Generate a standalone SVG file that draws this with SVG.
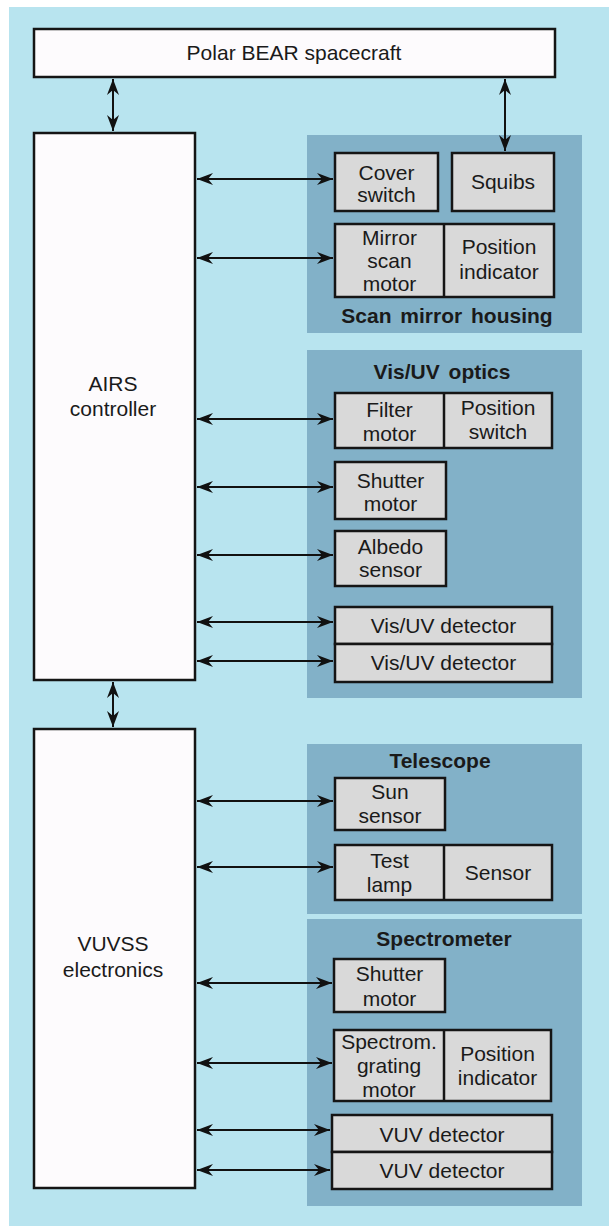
<svg xmlns="http://www.w3.org/2000/svg" width="609" height="1226" viewBox="0 0 609 1226">
<defs>
<marker id="ah" markerUnits="userSpaceOnUse" markerWidth="16" markerHeight="12" refX="16" refY="6" orient="auto-start-reverse" viewBox="0 0 16 12">
<path d="M0,0 L16,6 L0,12 L5,6 Z" fill="#111"/>
</marker>
<style>
.bg{fill:#b8e4ef}
.panel{fill:#82b1c8}
.main{fill:#fdfbfd;stroke:#151515;stroke-width:2.5}
.box{fill:#d9d9d9;stroke:#151515;stroke-width:2.5}
.div{stroke:#151515;stroke-width:2.5}
text{font-family:"Liberation Sans",Arial,sans-serif;font-size:21px;fill:#1a1a1a;text-anchor:middle}
.t{font-weight:bold;word-spacing:3px}
.c line{stroke:#111;stroke-width:2;marker-start:url(#ah);marker-end:url(#ah)}
</style>
</defs>
<rect x="0" y="0" width="609" height="1226" fill="#ffffff"/>
<rect class="bg" x="9" y="7" width="600" height="1219"/>

<g id="panel-scan">
<rect class="panel" x="307" y="135" width="275" height="198"/>
<text class="t" x="447" y="323">Scan mirror housing</text>
</g>
<g id="panel-visuv">
<rect class="panel" x="307" y="350" width="275" height="348"/>
<text class="t" x="442" y="379">Vis/UV optics</text>
</g>
<g id="panel-telescope">
<rect class="panel" x="307" y="744" width="275" height="170"/>
<text class="t" x="440" y="768">Telescope</text>
</g>
<g id="panel-spectrometer">
<rect class="panel" x="307" y="919" width="275" height="287"/>
<text class="t" x="444" y="946">Spectrometer</text>
</g>

<g id="polar-bear">
<rect class="main" x="34" y="29" width="521" height="48"/>
<text x="294" y="60">Polar BEAR spacecraft</text>
</g>
<g id="airs">
<rect class="main" x="34" y="133" width="161" height="547"/>
<text x="113" y="391">AIRS</text>
<text x="113" y="416">controller</text>
</g>
<g id="vuvss">
<rect class="main" x="34" y="729" width="161" height="459"/>
<text x="113" y="951">VUVSS</text>
<text x="113" y="977">electronics</text>
</g>

<g id="cover-switch">
<rect class="box" x="335" y="153" width="103" height="58"/>
<text x="386.5" y="180">Cover</text>
<text x="386.5" y="202">switch</text>
</g>
<g id="squibs">
<rect class="box" x="452" y="153" width="102" height="58"/>
<text x="503" y="189">Squibs</text>
</g>
<g id="mirror-scan">
<rect class="box" x="335" y="224" width="219" height="73"/>
<line class="div" x1="444" y1="224" x2="444" y2="297"/>
<text x="389.5" y="245">Mirror</text>
<text x="389.5" y="268">scan</text>
<text x="389.5" y="291">motor</text>
<text x="499" y="254">Position</text>
<text x="499" y="279">indicator</text>
</g>

<g id="filter-motor">
<rect class="box" x="335" y="393" width="217" height="55"/>
<line class="div" x1="444" y1="393" x2="444" y2="448"/>
<text x="389.5" y="417">Filter</text>
<text x="389.5" y="441">motor</text>
<text x="498" y="415">Position</text>
<text x="498" y="439">switch</text>
</g>
<g id="shutter-motor-1">
<rect class="box" x="335" y="462" width="111" height="57"/>
<text x="390.5" y="488">Shutter</text>
<text x="390.5" y="511">motor</text>
</g>
<g id="albedo">
<rect class="box" x="335" y="531" width="111" height="55"/>
<text x="390.5" y="554">Albedo</text>
<text x="390.5" y="577">sensor</text>
</g>
<g id="visuv-det-1">
<rect class="box" x="335" y="607" width="217" height="37"/>
<text x="443.5" y="633">Vis/UV detector</text>
</g>
<g id="visuv-det-2">
<rect class="box" x="335" y="644" width="217" height="38"/>
<text x="443.5" y="670">Vis/UV detector</text>
</g>

<g id="sun-sensor">
<rect class="box" x="335" y="778" width="110" height="52"/>
<text x="390" y="799">Sun</text>
<text x="390" y="823">sensor</text>
</g>
<g id="test-lamp">
<rect class="box" x="335" y="845" width="217" height="55"/>
<line class="div" x1="444" y1="845" x2="444" y2="900"/>
<text x="389.5" y="868">Test</text>
<text x="389.5" y="892">lamp</text>
<text x="498" y="880">Sensor</text>
</g>

<g id="shutter-motor-2">
<rect class="box" x="334" y="959" width="111" height="53"/>
<text x="389.5" y="981">Shutter</text>
<text x="389.5" y="1006">motor</text>
</g>
<g id="grating-motor">
<rect class="box" x="334" y="1030" width="217" height="71"/>
<line class="div" x1="444" y1="1030" x2="444" y2="1101"/>
<text x="389" y="1049">Spectrom.</text>
<text x="389" y="1073">grating</text>
<text x="389" y="1097">motor</text>
<text x="497.5" y="1061">Position</text>
<text x="497.5" y="1085">indicator</text>
</g>
<g id="vuv-det-1">
<rect class="box" x="332" y="1115" width="220" height="37"/>
<text x="442" y="1142">VUV detector</text>
</g>
<g id="vuv-det-2">
<rect class="box" x="332" y="1152" width="220" height="37"/>
<text x="442" y="1178">VUV detector</text>
</g>

<g id="connectors" class="c">
<line x1="113" y1="79" x2="113" y2="131"/>
<line x1="505" y1="79" x2="505" y2="151"/>
<line x1="113" y1="682" x2="113" y2="727"/>
<line x1="197" y1="179" x2="333" y2="179"/>
<line x1="197" y1="258" x2="333" y2="258"/>
<line x1="197" y1="419" x2="333" y2="419"/>
<line x1="197" y1="487" x2="333" y2="487"/>
<line x1="197" y1="555" x2="333" y2="555"/>
<line x1="197" y1="622" x2="333" y2="622"/>
<line x1="197" y1="661" x2="333" y2="661"/>
<line x1="197" y1="801" x2="333" y2="801"/>
<line x1="197" y1="867" x2="333" y2="867"/>
<line x1="197" y1="983" x2="332" y2="983"/>
<line x1="197" y1="1063" x2="332" y2="1063"/>
<line x1="197" y1="1130" x2="330" y2="1130"/>
<line x1="197" y1="1170" x2="330" y2="1170"/>
</g>
</svg>
